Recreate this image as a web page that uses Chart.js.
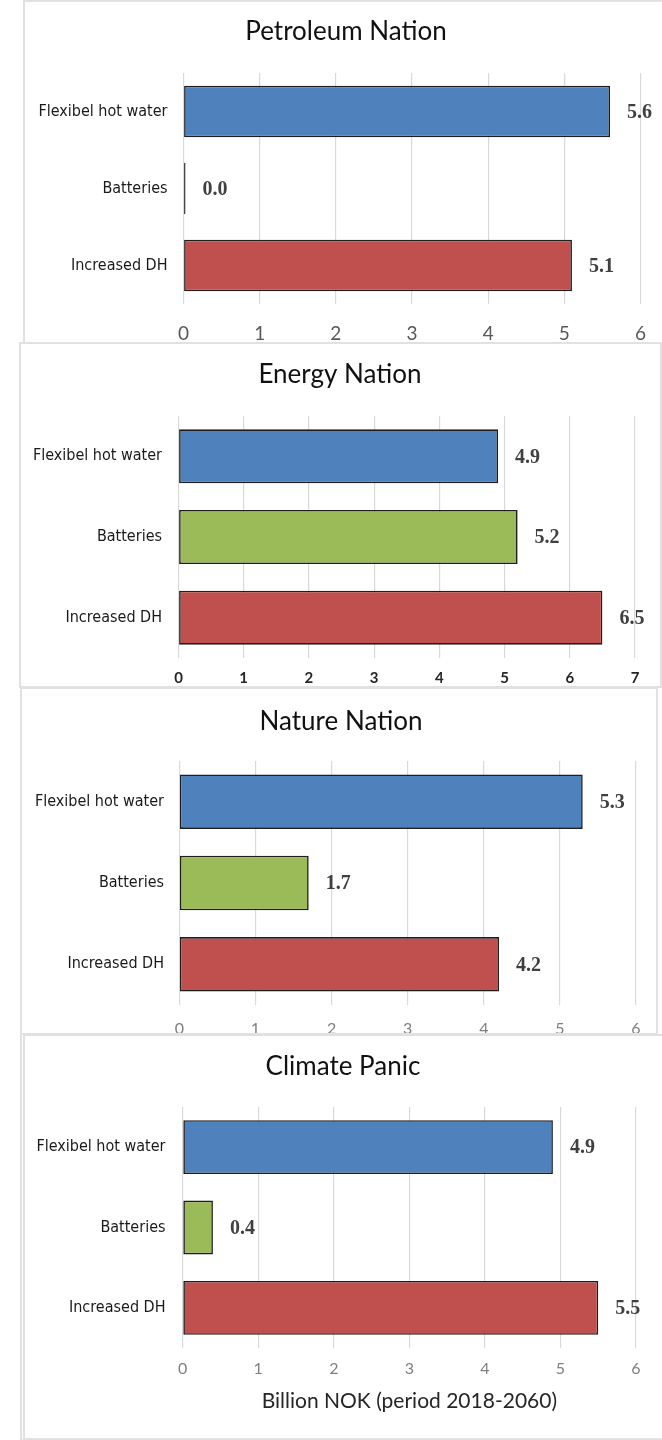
<!DOCTYPE html>
<html>
<head>
<meta charset="utf-8">
<script src="https://cdn.jsdelivr.net/npm/chart.js@4/dist/chart.umd.min.js"></script>
<style>
  html, body { margin: 0; padding: 0; background: #fff; }
  body { position: relative; width: 662px; height: 1440px; overflow: hidden; }
  .frame { position: absolute; box-sizing: border-box; border: 2px solid #e1e1e1; }
  canvas { position: absolute; left: 0; }
</style>
</head>
<body>
<div class="frame" style="left:23px; top:0px; width:660px; height:344px;"></div>
<div class="frame" style="left:19px; top:342px; width:643px; height:346px;"></div>
<div class="frame" style="left:20px; top:687px; width:638px; height:348px;"></div>
<div class="frame" style="left:20px; top:1034px; width:660px; height:406px; border-left:5px double #e1e1e1;"></div>

<canvas id="petroleum" style="top:0px;"></canvas>
<canvas id="energy" style="top:343px;"></canvas>
<canvas id="nature" style="top:688px;"></canvas>
<canvas id="climate" style="top:1035px;"></canvas>

<script>
const categories = ['Flexibel hot water', 'Batteries', 'Increased DH'];
const scenarios = ['Petroleum Nation', 'Energy Nation', 'Nature Nation', 'Climate Panic'];
const petroleumValues = [5.6, 0.0, 5.1];
const energyValues = [4.9, 5.2, 6.5];
const natureValues = [5.3, 1.7, 4.2];
const climateValues = [4.9, 0.4, 5.5];
const axisMax = [6, 7, 6, 6];
const axisTitle = 'Billion NOK (period 2018-2060)';
const barColors = ['#4F81BD', '#9BBB59', '#C0504D'];

const sansFont = 'Lato, "Open Sans", sans-serif';
const narrowFont = '"Liberation Sans Narrow", "DejaVu Sans Condensed", sans-serif';
const valueFont = '"Liberation Serif", "DejaVu Serif", serif';

// value printed to the right of every bar
const valueLabels = {
    id: 'valueLabels',
    afterDatasetsDraw(chart) {
        const ctx = chart.ctx;
        const values = chart.data.datasets[0].data;
        ctx.save();
        ctx.font = 'bold 20px ' + valueFont;
        ctx.fillStyle = '#404040';
        ctx.textAlign = 'left';
        ctx.textBaseline = 'middle';
        chart.getDatasetMeta(0).data.forEach((bar, i) => {
            ctx.fillText(values[i].toFixed(1), bar.x + 17, bar.y + 1);
        });
        ctx.restore();
    }
};

// scenario name above the plot, centred on the whole panel rather than the plot
const panelTitle = {
    id: 'panelTitle',
    afterDraw(chart, args, opts) {
        const ctx = chart.ctx;
        ctx.save();
        ctx.font = '26px ' + sansFont;
        ctx.fillStyle = '#111';
        ctx.textAlign = 'center';
        ctx.textBaseline = 'middle';
        ctx.fillText(opts.text, opts.x, opts.y);
        ctx.restore();
    }
};

function makePanel(id, title, values, max, box) {
    const canvas = document.getElementById(id);
    canvas.width = 662;
    canvas.height = box.height;
    canvas.style.width = '662px';
    canvas.style.height = box.height + 'px';

    const padLeft = 10;
    const tickLh = box.tickSize * 1.2;

    const xTitle = box.axisTitleY ? {
        display: true,
        text: axisTitle,
        color: '#262626',
        font: { family: sansFont, size: 21 },
        padding: { top: 0, bottom: box.height - box.axisTitleY - 12.6 }
    } : { display: false };

    return new Chart(canvas, {
        type: 'bar',
        data: {
            labels: categories,
            datasets: [{
                data: values,
                backgroundColor: barColors,
                borderColor: '#1e1e1e',
                borderWidth: 1.6,
                borderSkipped: false,
                minBarLength: 2,
                categoryPercentage: 1,
                barPercentage: 0.67
            }]
        },
        options: {
            indexAxis: 'y',
            responsive: false,
            animation: false,
            layout: {
                padding: { left: padLeft, right: 662 - box.right, top: box.top, bottom: 0 }
            },
            plugins: {
                legend: { display: false },
                tooltip: { enabled: false },
                title: { display: false },
                panelTitle: { text: title, x: box.titleX, y: box.titleY }
            },
            scales: {
                x: {
                    min: 0,
                    max: max,
                    ticks: {
                        stepSize: 1,
                        color: box.tickColor,
                        font: { family: sansFont, size: box.tickSize, weight: box.tickWeight },
                        padding: box.tickY - box.bottom - tickLh / 2
                    },
                    grid: { color: '#d9d9d9', lineWidth: 1.2, drawTicks: false },
                    border: { display: false },
                    title: xTitle,
                    afterFit(scale) {
                        scale.height = box.height - box.bottom;
                        scale.paddingLeft = 0;
                        scale.paddingRight = 0;
                    }
                },
                y: {
                    ticks: {
                        color: '#1a1a1a',
                        font: { family: narrowFont, size: 16 },
                        padding: box.left - box.labelRight
                    },
                    grid: { display: false, drawTicks: false },
                    border: { display: false },
                    afterFit(scale) {
                        scale.width = box.left - padLeft;
                        scale.paddingTop = 0;
                        scale.paddingBottom = 0;
                    }
                }
            }
        },
        plugins: [valueLabels, panelTitle]
    });
}

makePanel('petroleum', scenarios[0], petroleumValues, axisMax[0], {
    height: 341, left: 183.5, right: 640.5, top: 73, bottom: 304,
    titleX: 346, titleY: 32, tickY: 334, labelRight: 167.5,
    tickSize: 19, tickColor: '#595959', tickWeight: 'normal'
});
makePanel('energy', scenarios[1], energyValues, axisMax[1], {
    height: 343, left: 178.5, right: 635, top: 73, bottom: 315,
    titleX: 340, titleY: 32, tickY: 335, labelRight: 162,
    tickSize: 15, tickColor: '#262626', tickWeight: 'bold'
});
// tick labels of this panel run into the frame below and get cut off
makePanel('nature', scenarios[2], natureValues, axisMax[2], {
    height: 345, left: 179.3, right: 636, top: 73, bottom: 317,
    titleX: 341, titleY: 34, tickY: 341, labelRight: 164,
    tickSize: 16, tickColor: '#7f7f7f', tickWeight: 'normal'
});
makePanel('climate', scenarios[3], climateValues, axisMax[3], {
    height: 403, left: 182.7, right: 636, top: 72, bottom: 313,
    titleX: 343, titleY: 32, tickY: 334, labelRight: 165.5, axisTitleY: 366,
    tickSize: 16, tickColor: '#7f7f7f', tickWeight: 'normal'
});
</script>
</body>
</html>
